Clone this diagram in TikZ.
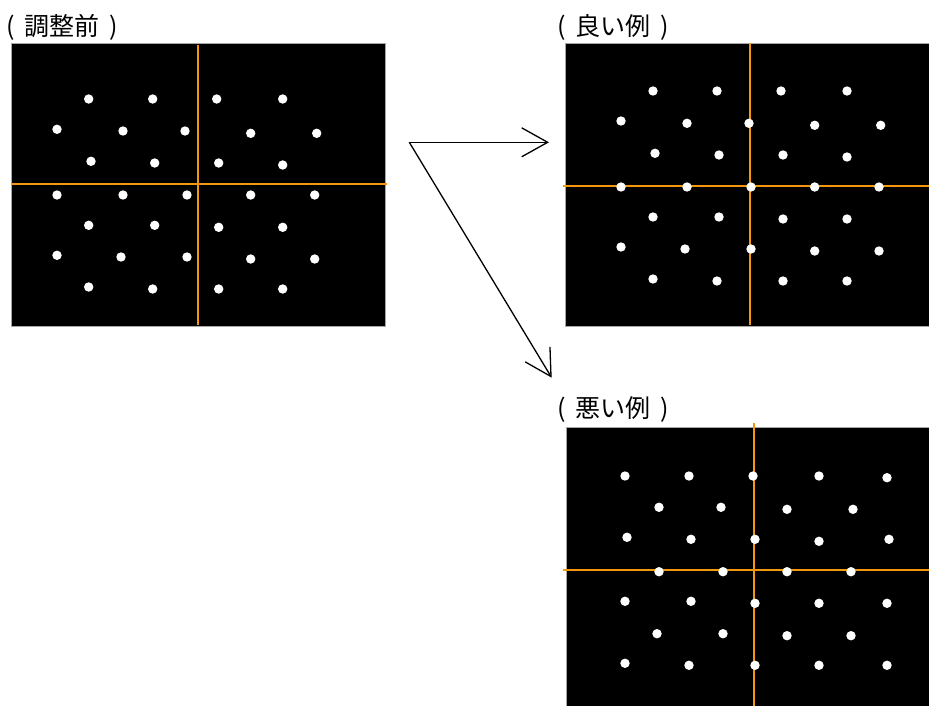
\documentclass[tikz,border=0pt]{standalone}
\usepackage{fontspec}
\newfontfamily\jpfont{Noto Sans CJK JP}
\usetikzlibrary{arrows.meta}
\definecolor{guide}{RGB}{245,150,15}
\tikzset{
  panel/.style={fill=black,draw=gray!70,line width=0.8pt},
  guideline/.style={draw=guide,line width=2pt},
  dot/.style={fill=white},
  lbl/.style={anchor=west,inner sep=0pt,font=\jpfont\fontsize{25}{27}\selectfont},
  arr/.style={draw=black,line width=1.3pt,-{Straight Barb[length=26pt,width=29pt,line width=1.3pt]}}
}
\newcommand{\lblgap}{\hspace{0.4em}}
\begin{document}
\begin{tikzpicture}[x=1pt,y=-1pt]
\useasboundingbox (0,0) rectangle (929,706);
% ---- panel 1 ----
\node[lbl] (l1) at (6,27) {(\lblgap 調整前\lblgap )};
\path[panel] (11,43.5) rectangle (385,326.5);
\path[guideline] (198,45) -- (198,325);
\path[guideline] (11,184) -- (386.5,184);
\foreach \x/\y in {88.7/99,152.7/99,216.7/99,282.7/99,
  57/129.3,123/131,185/131,250.7/133.3,316.7/133.3,
  91/161.3,154.7/163,218.7/163,282.7/165,
  57/195,123/195,187/195,250.7/195,314.7/195,
  88.7/225.3,154.7/225.3,218.7/227.3,282.7/227.3,
  57/255.3,121/257,187/257,250.7/259,314.7/259,
  88.7/287,152.7/289,218.7/289,282.7/289}
  \fill[dot] (\x,\y) circle (4.7);
% ---- panel 2 ----
\node[lbl] (l2) at (557,27) {(\lblgap 良い例\lblgap )};
\path[panel] (565,43.5) rectangle (930,326.5);
\path[guideline] (750,43.5) -- (750,324.5);
\path[guideline] (563,185.7) -- (929,185.7);
\foreach \x/\y in {653/91,717/91,781/91,847/91,
  621/121,687/123.3,749/123.3,814.7/125.3,880.7/125.3,
  655/153.3,719/155,783/155,847/157,
  621/187,687/187,751/187,814.7/187,879/187,
  653/217,719/217,783/219,847/219,
  621/247,685/249,751/249,814.7/251,879/251,
  653/279,717/281,783/281,847/281}
  \fill[dot] (\x,\y) circle (4.7);
% ---- panel 3 ----
\node[lbl] (l3) at (557,409) {(\lblgap 悪い例\lblgap )};
\path[panel] (566.7,427.3) rectangle (930,707);
\path[guideline] (753.7,423.3) -- (753.7,706);
\path[guideline] (563,570.3) -- (929,570.3);
\foreach \x/\y in {625/476,689/476,753/476,819/476,887/477.7,
  659/507.3,721/507.3,787/509.3,853/509.3,
  627/537.3,691/539.3,755/539.3,819/541.3,889/539.3,
  659/571.7,723/571.7,787/571.7,851/571.7,
  625/601.3,691/601.3,755/603.3,819/603.3,887/603.3,
  657/633.7,723/633.7,787/635.7,851/635.7,
  625/663.3,689/665.3,755/665.3,819/665.3,887/665.3}
  \fill[dot] (\x,\y) circle (4.7);
% ---- arrows ----
\coordinate (src) at (409.3,142.3);
\coordinate (good) at (549,142.3);
\coordinate (bad) at (551.7,377.7);
\draw[arr] (src) -- (good);
\draw[arr] (src) -- (bad);
\end{tikzpicture}
\end{document}
